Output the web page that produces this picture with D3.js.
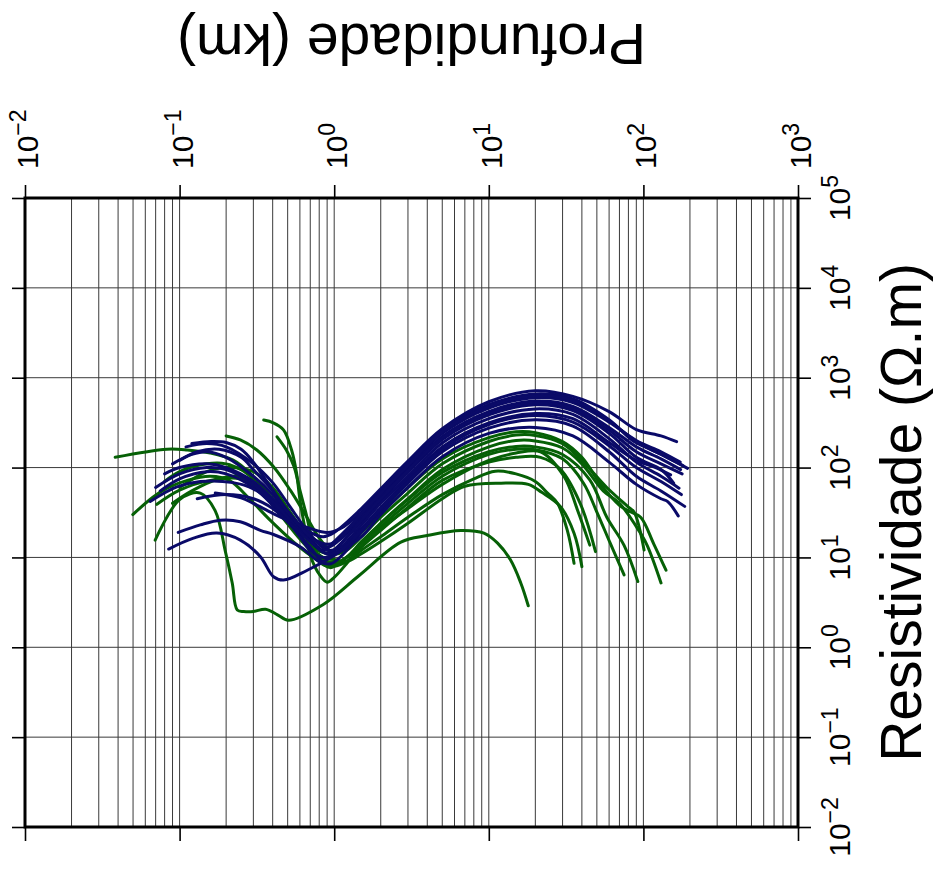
<!DOCTYPE html>
<html><head><meta charset="utf-8">
<script src="https://cdn.jsdelivr.net/npm/d3@7"></script>
<style>body{margin:0;background:#fff}svg{display:block}text{font-family:"Liberation Sans",Arial,Helvetica,sans-serif}</style>
</head><body>
<svg id="c" width="935" height="874"></svg>
<script>
// ---- axis ticks ----
const depthTicks = [0.01, 0.1, 1, 10, 100, 1000];
const depthExponents = ["\u22122", "\u22121", "0", "1", "2", "3"];
const rhoTicks = [0.01, 0.1, 1, 10, 100, 1000, 10000, 100000];
const rhoExponents = ["\u22122", "\u22121", "0", "1", "2", "3", "4", "5"];
const depthTitle = "Profundidade (km)";
const rhoTitle = "Resistividade (\u03A9.m)";

// ---- curves: [depth km, resistivity ohm.m] ----
const blue1 = [[0.12,185],[0.16,195],[0.2,190],[0.25,160],[0.3,115],[0.4,56],[0.5,33],[0.6,23],[0.7,19],[0.85,17],[1.0,19],[1.5,35],[2,58],[3,118],[5,270],[10,540],[20,715],[35,620],[60,420],[90,265],[130,225],[164,194]];
const blue2 = [[0.17,52],[0.25,46],[0.3,40],[0.4,31],[0.5,26],[0.7,21],[0.9,19],[1.1,21],[1.5,32],[2,54],[3,110],[5,260],[10,500],[20,660],[35,580],[60,340],[85,200],[110,160],[143,130],[193,98]];
const blue3 = [[0.09,110],[0.12,140],[0.15,150],[0.2,130],[0.3,80],[0.4,50],[0.5,30],[0.7,16],[0.85,12],[1.0,15],[1.5,30],[2,50],[3,102],[5,240],[10,460],[20,600],[35,530],[60,320],[90,200],[130,150],[173,115]];
const blue4 = [[0.08,85],[0.1,100],[0.15,110],[0.2,100],[0.3,70],[0.5,30],[0.7,17],[0.9,14],[1.1,16],[1.5,28],[2,47],[3,95],[5,222],[10,420],[20,550],[35,480],[60,280],[90,170],[130,125],[174,95]];
const blue5 = [[0.075,55],[0.1,75],[0.15,90],[0.2,85],[0.3,60],[0.4,38],[0.5,25],[0.7,13],[0.85,9],[1.0,12],[1.5,25],[2,43],[3,88],[5,205],[10,385],[20,500],[35,430],[60,240],[90,130],[130,95],[157,67]];
const blue6 = [[0.0645,42],[0.096,61],[0.136,70],[0.222,68],[0.3,58],[0.4,40],[0.5,26],[0.6,17],[0.7,12],[0.85,10],[1.0,11],[1.5,23],[2,40],[3,80],[5,188],[10,350],[20,450],[35,390],[60,210],[90,115],[130,80],[170,59]];
const blue7 = [[0.11,170],[0.15,185],[0.2,170],[0.3,110],[0.4,68],[0.5,40],[0.7,18],[0.9,12],[1.1,13],[1.5,21],[2,36],[3,74],[5,170],[10,315],[20,400],[35,350],[60,190],[90,120],[120,100],[150,83]];
const blue8 = [[0.098,19],[0.136,23],[0.183,26],[0.247,25],[0.333,20],[0.405,18],[0.61,13],[0.8,9],[0.95,8.5],[1.15,11],[1.5,19],[2,33],[3,67],[5,150],[10,275],[20,340],[35,290],[60,150],[90,80],[130,55],[185,37]];
const blue9 = [[0.085,12.4],[0.123,16.4],[0.174,18.7],[0.247,15.6],[0.333,10.2],[0.405,6.1],[0.47,5.6],[0.67,7.2],[1.0,10.5],[1.5,17],[2,30],[3,60],[5,132],[10,240],[20,280],[35,225],[60,115],[90,65],[130,45],[143,42],[168,29]];
const blue10 = [[0.1,120],[0.13,150],[0.18,160],[0.25,130],[0.3,95],[0.4,55],[0.5,32],[0.7,17],[0.9,13],[1.05,15],[1.5,31],[2,52],[3,106],[5,250],[10,480],[20,630],[35,560],[60,330],[90,195],[130,140],[180,105]];
const blue11 = [[0.07,60],[0.1,85],[0.15,100],[0.2,95],[0.3,65],[0.4,42],[0.5,28],[0.7,15],[0.9,11],[1.05,13],[1.5,26],[2,45],[3,92],[5,212],[10,400],[20,520],[35,455],[60,260],[90,150],[130,110],[178,85]];
const blue12 = [[0.13,45],[0.2,50],[0.3,45],[0.4,35],[0.5,25],[0.7,15],[0.9,11],[1.1,12],[1.5,20],[2,35],[3,70],[5,160],[10,300],[20,380],[35,320],[60,175],[90,100],[130,70],[176,50]];

const green1 = [[0.0383,130],[0.0827,160],[0.112,157],[0.158,145],[0.222,121],[0.286,86],[0.366,52],[0.447,31],[0.55,20],[0.66,14.4],[0.78,12],[0.95,11],[1.2,13],[1.5,19],[2,31],[3,60],[5,125],[10,215],[15,250],[20,245],[30,195],[40,130],[53,65],[70,38],[83,32],[96,28],[117,14],[140,7.2]];
const green2 = [[0.2,225],[0.247,203],[0.316,157],[0.405,102],[0.52,56],[0.65,30],[0.81,16],[1.0,11],[1.2,12],[1.5,17],[2,28],[3,52],[5,110],[10,195],[15,230],[20,228],[30,185],[40,120],[58,60],[79,37],[87,32],[101,12.1]];
const green3 = [[0.35,338],[0.404,315],[0.47,263],[0.53,157],[0.57,88],[0.6,44],[0.65,20],[0.7,10.6],[0.81,6.3],[0.9,5.3],[1.0,6],[1.2,8.5],[1.5,14],[2,24],[3,45],[5,95],[10,170],[15,200],[20,198],[30,165],[40,110],[55,55],[70,40],[90,22],[105,14],[130,5.2]];
const green4 = [[0.0498,30],[0.0675,47],[0.083,59],[0.112,72],[0.158,80],[0.21,72],[0.286,44],[0.385,26],[0.52,16],[0.7,10.6],[0.95,8],[1.2,10],[1.5,15],[2,24],[3,44],[5,88],[10,150],[15,172],[20,170],[30,140],[45,73],[58,28],[75,13.6],[92,5.4]];
const green5 = [[0.427,220],[0.49,157],[0.55,102],[0.6,56],[0.66,30],[0.72,16],[0.81,9.5],[0.94,7.7],[1.2,10],[1.5,14],[2,22],[3,40],[5,80],[10,140],[15,160],[20,158],[30,125],[41,67],[50,32],[61,14.4],[75,6.4]];
const green6 = [[0.0713,39],[0.1,56],[0.158,72],[0.247,75],[0.33,56],[0.447,30],[0.6,16],[0.81,9.5],[1.0,8],[1.2,9],[1.5,13],[2,20],[3,36],[5,72],[10,115],[15,130],[21.6,130],[29,96],[39,40],[49,11.6]];
const green7 = [[0.08,70],[0.1,90],[0.15,110],[0.2,110],[0.25,95],[0.3,75],[0.4,45],[0.5,28],[0.6,18],[0.7,12],[0.8,9],[0.9,8],[1.2,10],[1.5,14],[2,21],[3,35],[5,65],[10,120],[15,145],[21.6,150],[30.6,80],[37.4,34],[45,13.7]];
const green8 = [[0.1,60],[0.15,90],[0.2,100],[0.3,90],[0.4,60],[0.5,35],[0.6,22],[0.7,14],[0.8,10],[0.9,9],[1.0,9],[1.2,9],[1.5,12],[2,17],[3,28],[5,50],[8,75],[11,91],[15,85],[20,70],[24,52],[27.8,40],[32.2,20],[35.6,8.6]];
const green9 = [[0.09,40],[0.12,55],[0.18,75],[0.25,80],[0.3,70],[0.4,45],[0.5,28],[0.6,18],[0.7,13],[0.85,10],[1.0,9.5],[1.2,9],[1.5,11],[2,15],[3,24],[5,45],[7,62],[12,67],[18,65],[22,53],[29,37],[35.6,18.6],[40,7.9]];
const green10 = [[0.0695,15.6],[0.1,44],[0.136,52],[0.17,33],[0.197,12],[0.219,5.2],[0.236,2.6],[0.26,2.5],[0.3,2.5],[0.36,2.65],[0.43,2.3],[0.505,2.0],[0.85,3.0],[1.45,6.3],[2.7,14.8],[4.0,17.5],[6.6,19.9],[9.3,18.6],[11.4,14.4],[13.8,9.4],[16.1,5.2],[18.0,2.9]];

const blueCurves = [blue1, blue2, blue3, blue4, blue5, blue6, blue7, blue8, blue9, blue10, blue11, blue12];
const greenCurves = [green1, green2, green3, green4, green5, green6, green7, green8, green9, green10];
const blueColor = "#0a0a68";
const greenColor = "#066006";

// ---- drawing ----
const svg = d3.select("#c");
const L = 25, R = 798, T = 198, B = 827;
const x = d3.scaleLog().domain([1e-2, 1e3]).range([L, R]);
const y = d3.scaleLog().domain([1e-2, 1e5]).range([B, T]);

// grid
const grid = svg.append("g");
grid.selectAll("line.v").data(x.ticks()).join("line")
  .attr("x1", d => x(d)).attr("x2", d => x(d)).attr("y1", T).attr("y2", B)
  .attr("stroke", "#3a3a3a").attr("stroke-width", 1);
grid.selectAll("line.h").data(rhoTicks).join("line")
  .attr("x1", L).attr("x2", R).attr("y1", d => y(d)).attr("y2", d => y(d))
  .attr("stroke", "#3a3a3a").attr("stroke-width", 1);

// curves
const line = d3.line().x(d => x(d[0])).y(d => y(d[1])).curve(d3.curveCatmullRom.alpha(0.5));
svg.append("g").selectAll("path").data(greenCurves).join("path")
  .attr("d", line).attr("fill", "none").attr("stroke", greenColor)
  .attr("stroke-width", 3).attr("stroke-linejoin", "round").attr("stroke-linecap", "round");
svg.append("g").selectAll("path").data(blueCurves).join("path")
  .attr("d", line).attr("fill", "none").attr("stroke", blueColor)
  .attr("stroke-width", 3).attr("stroke-linejoin", "round").attr("stroke-linecap", "round");

// axes (ticks only)
function styleAxis(g) {
  g.select(".domain").remove();
  g.selectAll(".tick line").attr("stroke", "#000").attr("stroke-width", 1.6);
  g.selectAll(".tick text").remove();
}
svg.append("g").attr("transform", `translate(0,${T})`)
  .call(d3.axisTop(x).tickValues(depthTicks).tickSize(13).tickFormat(() => "")).call(styleAxis);
svg.append("g").attr("transform", `translate(0,${B})`)
  .call(d3.axisBottom(x).tickValues(depthTicks).tickSize(14).tickFormat(() => "")).call(styleAxis);
svg.append("g").attr("transform", `translate(${L},0)`)
  .call(d3.axisLeft(y).tickValues(rhoTicks).tickSize(13).tickFormat(() => "")).call(styleAxis);
svg.append("g").attr("transform", `translate(${R},0)`)
  .call(d3.axisRight(y).tickValues(rhoTicks).tickSize(13).tickFormat(() => "")).call(styleAxis);

// frame
svg.append("rect").attr("x", L).attr("y", T).attr("width", R - L).attr("height", B - T)
  .attr("fill", "none").attr("stroke", "#000").attr("stroke-width", 3);

// top tick labels (depth), rotated
const topLab = svg.append("g").selectAll("text").data(depthTicks).join("text")
  .attr("transform", d => `translate(${x(d) + 13},169) rotate(-90)`)
  .attr("text-anchor", "start").attr("font-size", 30).attr("fill", "#000");
topLab.append("tspan").text("10");
topLab.append("tspan").attr("font-size", 23).attr("dy", -12).text((d, i) => depthExponents[i]);

// right tick labels (resistivity), rotated
const rightLab = svg.append("g").selectAll("text").data(rhoTicks).join("text")
  .attr("transform", d => `translate(850,${y(d)}) rotate(-90)`)
  .attr("text-anchor", "middle").attr("font-size", 30).attr("fill", "#000");
rightLab.append("tspan").text("10");
rightLab.append("tspan").attr("font-size", 23).attr("dy", -12).text((d, i) => rhoExponents[i]);

// axis titles
svg.append("text").attr("transform", `translate(${(L + R) / 2},24) rotate(180)`)
  .attr("text-anchor", "middle").attr("font-size", 57).attr("fill", "#000").text(depthTitle);
svg.append("text").attr("transform", `translate(921,${(T + B) / 2}) rotate(-90)`)
  .attr("text-anchor", "middle").attr("font-size", 57).attr("fill", "#000").text(rhoTitle);
</script>
</body></html>
